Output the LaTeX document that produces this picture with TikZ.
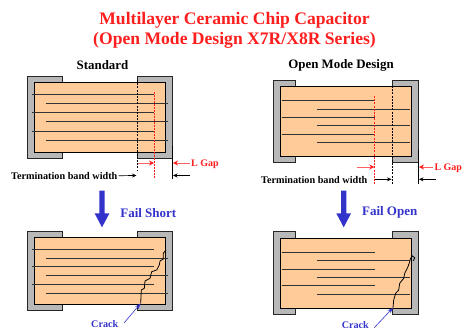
\documentclass[tikz,border=0pt]{standalone}
\usepackage{fontspec}
\setmainfont{Liberation Serif}
\usetikzlibrary{arrows.meta}
\definecolor{bodyc}{RGB}{255,204,153}
\definecolor{termc}{RGB}{184,184,184}
\definecolor{redc}{RGB}{255,30,30}
\definecolor{bluec}{RGB}{51,51,204}
\tikzset{
  term/.style={draw=black!85,fill=termc,line width=1pt},
  ceramic/.style={draw=black,fill=bodyc,line width=1pt},
  electrode/.style={draw=black!80,line width=1pt},
  title/.style={text=redc,font=\fontsize{17.6}{20}\selectfont\bfseries,inner sep=0pt},
  head/.style={font=\fontsize{12.9}{15}\selectfont\bfseries,inner sep=0pt},
  small/.style={font=\fontsize{10.2}{12}\selectfont\bfseries,inner sep=0pt},
  lgap/.style={text=redc,font=\fontsize{10}{12}\selectfont\bfseries,inner sep=0pt},
  fail/.style={text=bluec,font=\fontsize{13}{15}\selectfont\bfseries,inner sep=0pt},
  cracklabel/.style={text=bluec,font=\fontsize{10.1}{12}\selectfont\bfseries,inner sep=0pt},
  redarrow/.style={draw=redc!70,line width=0.8pt,-{Stealth[length=5pt,width=5pt,color=redc]}},
  blackarrow/.style={draw=black,line width=0.7pt,-{Stealth[length=4.5pt,width=4pt]}},
  bluethin/.style={draw=bluec,line width=0.6pt,-{Stealth[length=6pt,width=4pt]}},
  crackline/.style={draw=black,line width=0.8pt},
  bigarrow/.style={draw=none,fill=bluec},
}
\newcommand{\capbody}[9]{%
  \draw[term] (#1,#5) rectangle (#2,#6);
  \draw[term] (#3,#5) rectangle (#4,#6);
  \draw[ceramic] (#1+#9,#7) rectangle (#4-#9,#8);
}
\begin{document}
\begin{tikzpicture}[x=1pt,y=-1pt]
\useasboundingbox (0,0) rectangle (463,330);
\node[title] (t1) at (234.5,20.5) {Multilayer Ceramic Chip Capacitor};
\node[title] (t2) at (234.5,40.5) {(Open Mode Design X7R/X8R Series)};
\node[head] (std) at (102.5,65) {Standard};
\node[head] (omd) at (341,65) {Open Mode Design};

% top-left capacitor
\capbody{27}{62}{137.5}{172.5}{76}{158.7}{82.3}{152.3}{7.3}
\foreach \y in {94.3,112.7,131} \draw[electrode] (32,\y) -- (154,\y);
\foreach \y in {103.3,121.7,140.3} \draw[electrode] (46,\y) -- (168,\y);
\draw[black,line width=0.7pt,dash pattern=on 2pt off 1.2pt] (137,80) -- (137,170);
\draw[redc,line width=0.8pt,dash pattern=on 1.5pt off 1.5pt] (154.7,92) -- (154.7,179);
\draw[black,line width=0.9pt] (172.5,146) -- (172.5,179);
\draw[redarrow] (138,163) -- (154,163);
\draw[redarrow] (190,163) -- (173,163);
\node[lgap,anchor=west] (lg1) at (191,164) {L Gap};
\node[small,anchor=west] (tb1) at (11,175.7) {Termination band width};
\coordinate (tb1e) at (136.5,175.5);
\draw[blackarrow] (tb1.east) ++(1,0) -- (tb1e);
\coordinate (b1s) at (190,175.5);
\coordinate (b1e) at (173,175.5);
\draw[blackarrow] (b1s) -- (b1e);

% top-right capacitor
\capbody{273.3}{295.7}{392}{418.7}{80}{162.7}{86.3}{156.7}{7}
\foreach \y in {100.7,117.3,134} \draw[electrode] (282,\y) -- (374.5,\y);
\foreach \y in {109,125.7,142.3} \draw[electrode] (317.3,\y) -- (410,\y);
\draw[redc,line width=0.8pt,dash pattern=on 2pt off 1.2pt] (374.7,96) -- (374.7,184);
\draw[black,line width=0.7pt,dash pattern=on 2pt off 1.2pt] (392,86) -- (392,184);
\draw[black,line width=0.9pt] (418.3,150) -- (418.3,184);
\draw[redarrow] (357,167) -- (374.3,167);
\draw[redarrow] (433,167) -- (419,167);
\node[lgap,anchor=west] (lg2) at (434.3,168) {L Gap};
\node[small,anchor=west] (tb2) at (261,179.7) {Termination band width};
\draw[blackarrow] (375,179.3) -- (391.5,179.3);
\draw[blackarrow] (436,179.3) -- (419,179.3);

% big arrows
\fill[bigarrow] (99.3,190.7) -- (104.7,190.7) -- (104.7,213.3) -- (109.4,213.3) -- (102,227.3) -- (94.6,213.3) -- (99.3,213.3) -- cycle;
\fill[bigarrow] (341,190.7) -- (346.4,190.7) -- (346.4,213.3) -- (351.1,213.3) -- (343.7,227.3) -- (336.3,213.3) -- (341,213.3) -- cycle;
\node[fail] (fs) at (148.3,212.8) {Fail Short};
\node[fail] (fo) at (389.7,212.8) {Fail Open};

% bottom-left capacitor
\capbody{27}{62}{137.5}{172.5}{231.7}{310.3}{237.7}{304.3}{7.3}
\foreach \y in {249.3,266.7,284.3} \draw[electrode] (32,\y) -- (154,\y);
\foreach \y in {258,275.3,293} \draw[electrode] (46,\y) -- (168,\y);
\draw[crackline] (166,250) -- (163.3,253.3) -- (163.3,259) -- (160,261) -- (159.3,265) -- (156.7,270) -- (151.7,271.7) -- (150,278.3) -- (145,281) -- (144.3,288.3) -- (141.3,290) -- (140.7,303.3);
\node[cracklabel] (cr1) at (104.7,323.7) {Crack};
\coordinate (cr1s) at (124,323);
\coordinate (cr1e) at (140.7,303.3);
\draw[bluethin] (cr1s) -- (cr1e);

% bottom-right capacitor
\capbody{273.3}{295.7}{392}{418.7}{231.7}{314.3}{238.3}{308.3}{7}
\foreach \y in {252.7,269.3,285.7} \draw[electrode] (282,\y) -- (374.5,\y);
\foreach \y in {260.7,277.3,294} \draw[electrode] (317.3,\y) -- (410,\y);
\draw[crackline] (413,261) -- (414.8,258) -- (412.5,256) -- (410.5,258.5) -- (409.7,261.7) -- (408,266.7) -- (404.7,273.3) -- (403.7,278.3) -- (399.7,283.3) -- (398.7,290) -- (395.7,293.3) -- (393.7,300) -- (393,307.7);
\node[cracklabel] (cr2) at (355.3,325) {Crack};
\coordinate (cr2s) at (374.3,327.7);
\coordinate (cr2e) at (393,307.7);
\draw[bluethin] (cr2s) -- (cr2e);
\end{tikzpicture}
\end{document}
